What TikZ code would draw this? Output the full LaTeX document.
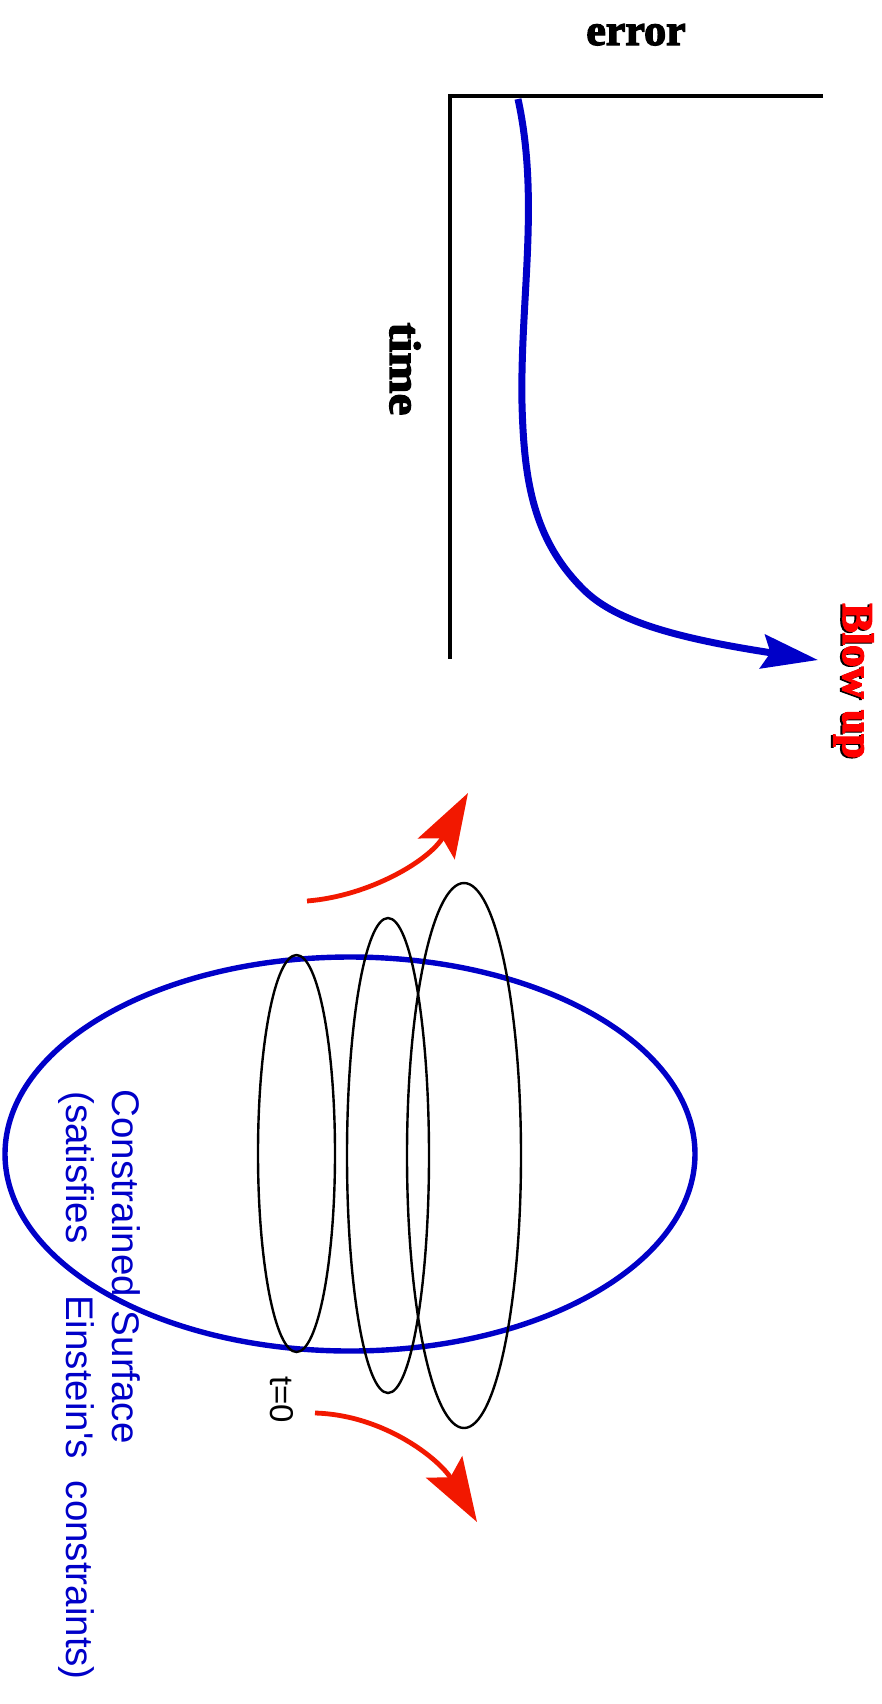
\documentclass[tikz,border=0pt]{standalone}
\usepackage{fontspec}
\usetikzlibrary{arrows.meta}
\newfontfamily\heavyserif[FakeBold=3]{Liberation Serif}
\newfontfamily\heavywide[FakeBold=3,FakeStretch=1.12]{Liberation Serif}
\newfontfamily\lsans{Liberation Sans}
\definecolor{myblue}{RGB}{0,0,200}
\definecolor{myred}{RGB}{242,24,0}
\definecolor{textred}{RGB}{255,0,0}
\begin{document}
\begin{tikzpicture}[x=0.5pt,y=-0.5pt,
  axisline/.style={line width=2.2pt, black},
  bluecurve/.style={line width=3.5pt, myblue, -{Stealth[length=28pt,width=17pt,inset=4pt]}},
  redarrow/.style={line width=2.4pt, myred, -{Stealth[length=32pt,width=21pt,inset=6pt]}},
  bigell/.style={line width=2.7pt, myblue},
  thinell/.style={line width=1.2pt, black},
  seriflabel/.style={inner sep=0pt, font=\heavyserif\bfseries\fontsize{22pt}{26pt}\selectfont},
  widelabel/.style={inner sep=0pt, font=\heavywide\bfseries\fontsize{22pt}{26pt}\selectfont},
  sanslabel/.style={inner sep=0pt, font=\lsans\fontsize{19.25pt}{22pt}\selectfont, myblue},
  smalllabel/.style={inner sep=0pt, font=\lsans\fontsize{16.5pt}{20pt}\selectfont, black}
]
\useasboundingbox (0,0) rectangle (882,1704);
% axes
\coordinate (axright) at (823,96);
\coordinate (origin) at (450,96);
\coordinate (axbottom) at (450,659);
\draw[axisline] (axright) -- (origin) -- (axbottom);
% labels
\node[seriflabel, anchor=base] (error) at (636,45) {error};
\node[widelabel, rotate=-90, anchor=base west] (time) at (390,322) {time};
\node[seriflabel, rotate=-90, anchor=base west, black] (blowshadow) at (841,604) {Blow up};
\node[seriflabel, rotate=-90, anchor=base west, textred] (blowup) at (843,603) {Blow up};
% blue error curve
\coordinate (cstart) at (518,99);
\coordinate (cmid) at (522,404);
\coordinate (cbend) at (583,589);
\coordinate (ctip) at (818,660);
\draw[bluecurve] (cstart) .. controls (540,200) and (520,300) .. (cmid)
  .. controls (524,480) and (533,539) .. (cbend)
  .. controls (613,619) and (668,637) .. (ctip);
% constrained surface
\draw[bigell] (350,1154) ellipse [x radius=172.5pt, y radius=98.5pt];
\draw[thinell] (296.5,1153.5) ellipse [x radius=19.25pt, y radius=99.25pt];
\draw[thinell] (388,1155.5) ellipse [x radius=20.5pt, y radius=118.75pt];
\draw[thinell] (464,1155.5) ellipse [x radius=28.5pt, y radius=136.25pt];
% red arrows
\coordinate (ra1) at (307,901);
\coordinate (ra1tip) at (468,793);
\coordinate (ra2) at (315,1413);
\coordinate (ra2tip) at (477,1522);
\draw[redarrow] (ra1) .. controls (370,896) and (430,860) .. (ra1tip);
\draw[redarrow] (ra2) .. controls (385,1415) and (440,1460) .. (ra2tip);
% texts
\node[sanslabel, rotate=-90, anchor=base west] (cs1) at (112,1089) {Constrained\hspace{7pt}Surface};
\node[sanslabel, rotate=-90, anchor=base west] (cs2) at (66,1091) {(satisfies\hspace{26pt}Einstein's\hspace{11pt}constraints)};
\node[smalllabel, rotate=-90, anchor=base west] (t0) at (270,1376) {t=0};
\end{tikzpicture}
\end{document}
